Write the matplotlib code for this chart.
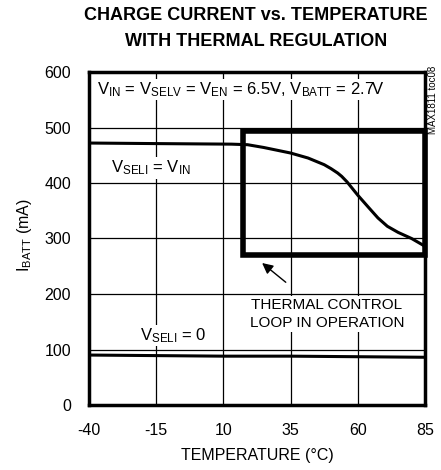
from matplotlib import pyplot as plt
from matplotlib.patches import Rectangle
import numpy as np

# data
temp_upper = [-40, -15, 13, 19, 25, 30, 35, 41.5, 47.5, 50, 52.5, 54, 56,
              58, 60, 62, 64, 67.5, 71, 75, 80, 85]
iba_upper = [472, 471, 470, 469, 464, 459, 454, 445, 433, 426, 418, 412, 402,
             390, 378, 367, 356, 337, 322, 311, 300, 286]
temp_lower = [-40, -15, 10, 35, 60, 85]
iba_lower = [90, 89, 88, 88, 87, 86]
x_ticks = [-40, -15, 10, 35, 60, 85]
y_ticks = [0, 100, 200, 300, 400, 500, 600]
thermal_box = (17.3, 271, 85, 494)  # t0, i0, t1, i1

plt.rcParams['font.family'] = ['Liberation Sans', 'DejaVu Sans']
plt.rcParams['mathtext.fontset'] = 'custom'
plt.rcParams['mathtext.rm'] = 'Liberation Sans'
plt.rcParams['mathtext.it'] = 'Liberation Sans'
plt.rcParams['axes.unicode_minus'] = False


def main():
    fig = plt.figure(figsize=(4.41, 4.70), dpi=100)
    ax = fig.add_axes([89 / 441, 1 - 405 / 470, 336 / 441, 333 / 470])

    ax.plot(temp_upper, iba_upper, color='black', lw=2.2, zorder=3)
    ax.plot(temp_lower, iba_lower, color='black', lw=2.2, zorder=3)

    t0, i0, t1, i1 = thermal_box
    ax.add_patch(Rectangle((t0, i0), t1 - t0, i1 - i0, fill=False,
                           lw=4, edgecolor='black', zorder=4, clip_on=False))

    ax.set_xlim(-40, 85)
    ax.set_ylim(0, 600)
    ax.set_xticks(x_ticks)
    ax.set_yticks(y_ticks)
    ax.tick_params(length=0, labelsize=11.5)
    ax.tick_params(axis='x', pad=13)
    ax.tick_params(axis='y', pad=13)
    ax.grid(color='black', lw=0.9, zorder=1)
    ax.set_axisbelow(True)
    for s in ax.spines.values():
        s.set_linewidth(2.5)

    box = dict(facecolor='white', edgecolor='none', pad=1)
    ax.text(-37, 568, r'V$_{\rm IN}$ = V$_{\rm SELV}$ = V$_{\rm EN}$ = 6.5V, V$_{\rm BATT}$ = 2.7V',
            fontsize=12, va='center', ha='left', bbox=box, zorder=2)
    ax.text(-32, 427, r'V$_{\rm SELI}$ = V$_{\rm IN}$', fontsize=12,
            va='center', ha='left', bbox=box, zorder=2)
    ax.text(-21, 125, r'V$_{\rm SELI}$ = 0', fontsize=12,
            va='center', ha='left', bbox=box, zorder=2)
    ax.text(48.5, 164, 'THERMAL CONTROL\nLOOP IN OPERATION', fontsize=11,
            va='center', ha='center', linespacing=1.4, bbox=box, zorder=2)
    ax.annotate('', xy=(23.6, 259), xytext=(34, 218),
                arrowprops=dict(arrowstyle='-|>', color='black', lw=1,
                                mutation_scale=16), zorder=5)

    ax.set_xlabel('TEMPERATURE (°C)', fontsize=11.5)
    ax.xaxis.set_label_coords(0.5, -43 / 333)
    ax.set_ylabel(r'I$_{\rm BATT}$ (mA)', fontsize=11.5)
    ax.yaxis.set_label_coords(-55 / 336, 0.51)

    fig.text(256 / 441, 1 - 15 / 470, 'CHARGE CURRENT vs. TEMPERATURE',
             ha='center', va='center', fontsize=13, weight='bold')
    fig.text(256 / 441, 1 - 41 / 470, 'WITH THERMAL REGULATION',
             ha='center', va='center', fontsize=13, weight='bold')
    fig.text(433 / 441, 1 - 100 / 470, 'MAX1811 toc08', rotation=90,
             ha='center', va='center', fontsize=7)

    fig.savefig('out.png', dpi=100)


if __name__ == "__main__":
    main()
